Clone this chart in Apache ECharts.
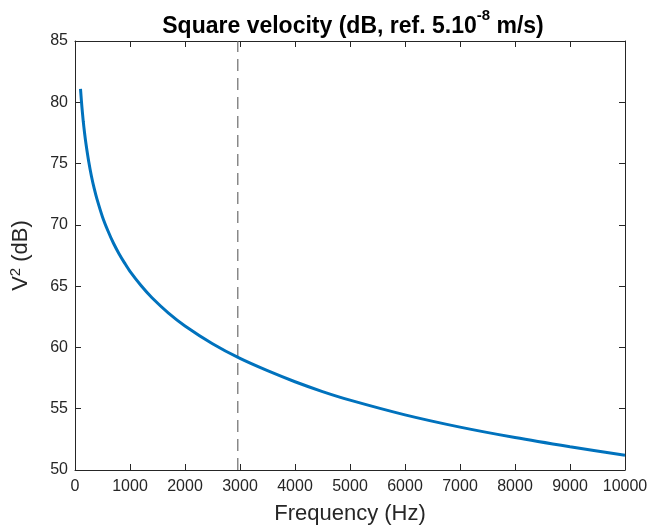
<!DOCTYPE html>
<html>
<head>
<meta charset="utf-8">
<script src="https://cdn.jsdelivr.net/npm/echarts@6/dist/echarts.min.js"></script>
<style>html,body{margin:0;padding:0;background:#fff}#c{width:651px;height:532px}</style>
</head>
<body>
<div id="c"></div>
<script>
var freqHz = [100,110,125,150,175,200,250,300,350,400,500,600,700,800,900,1000,1200,1400,1700,2000,2500,3000,3500,4000,4500,5000,6000,7000,8000,9000,10000];
var velocityDb = [81.1,80.5,79.65,78.45,77.45,76.6,75.15,73.95,72.95,72.1,70.65,69.5,68.5,67.65,66.9,66.2,65.05,64.05,62.8,61.75,60.3,59.1,58.1,57.2,56.4,55.7,54.5,53.5,52.65,51.9,51.2];
var markerFreq = 2960;
var xTicks = {min:0, max:10000, interval:1000};
var yTicks = {min:50, max:85, interval:5};

var pts = freqHz.map(function(f,i){return [f, velocityDb[i]];});
var font = '"Liberation Sans", Arial, Helvetica, sans-serif';
var axCol = '#262626';
var chart = echarts.init(document.getElementById('c'), null, {renderer:'canvas'});
function axisBase(extra){
  var o = {
    axisLine:{show:true, onZero:false, lineStyle:{color:axCol, width:1}},
    axisTick:{show:true, inside:true, length:6, lineStyle:{color:axCol, width:1}},
    splitLine:{show:false},
    axisLabel:{show:true, color:axCol, fontSize:16, fontFamily:font}
  };
  for (var k in extra) o[k]=extra[k];
  return o;
}
chart.setOption({
  animation:false,
  backgroundColor:'#fff',
  title:{
    text:'{b|Square velocity (dB, ref. 5.10}{s|-8}{b| m/s)}',
    left:348, top:3, textAlign:'center',
    textStyle:{rich:{
      b:{fontSize:23, fontWeight:'bold', fontFamily:font, color:'#000', verticalAlign:'bottom', lineHeight:30},
      s:{fontSize:15, fontWeight:'bold', fontFamily:font, color:'#000', verticalAlign:'top', padding:[0,0,12,0], lineHeight:30}
    }}
  },
  grid:{left:74, right:26, top:41, bottom:62, containLabel:false},
  xAxis:[
    axisBase({type:'value', min:xTicks.min, max:xTicks.max, interval:xTicks.interval, position:'bottom',
      name:'Frequency (Hz)', nameLocation:'middle', nameGap:33,
      nameTextStyle:{fontSize:22, fontFamily:font, color:axCol},
      axisLabel:{color:axCol, fontSize:16, fontFamily:font, margin:9, formatter:function(v){return String(v);}}}),
    axisBase({type:'value', min:xTicks.min, max:xTicks.max, interval:xTicks.interval, position:'top', axisLabel:{show:false}})
  ],
  yAxis:[
    axisBase({type:'value', min:yTicks.min, max:yTicks.max, interval:yTicks.interval, position:'left',
      name:'{n|V}{s|2}{n| (dB)}', nameLocation:'middle', nameGap:41, nameRotate:90,
      nameTextStyle:{rich:{
        n:{fontSize:22, fontFamily:font, color:axCol},
        s:{fontSize:15, fontFamily:font, color:axCol, padding:[0,0,11,0]}
      }},
      axisLabel:{color:axCol, fontSize:16, fontFamily:font, margin:7}}),
    axisBase({type:'value', min:yTicks.min, max:yTicks.max, interval:yTicks.interval, position:'right', axisLabel:{show:false}})
  ],
  series:[
    {type:'line', data:pts, smooth:0.3, showSymbol:false, symbol:'none', xAxisIndex:0, yAxisIndex:0,
     lineStyle:{color:'#0072BD', width:3}, z:3},
    {type:'line', data:[[markerFreq, yTicks.min],[markerFreq, yTicks.max]], showSymbol:false, symbol:'none',
     lineStyle:{color:'#6b6b6b', width:1.2, type:[12,7]}, z:2}
  ]
});
</script>
</body>
</html>
